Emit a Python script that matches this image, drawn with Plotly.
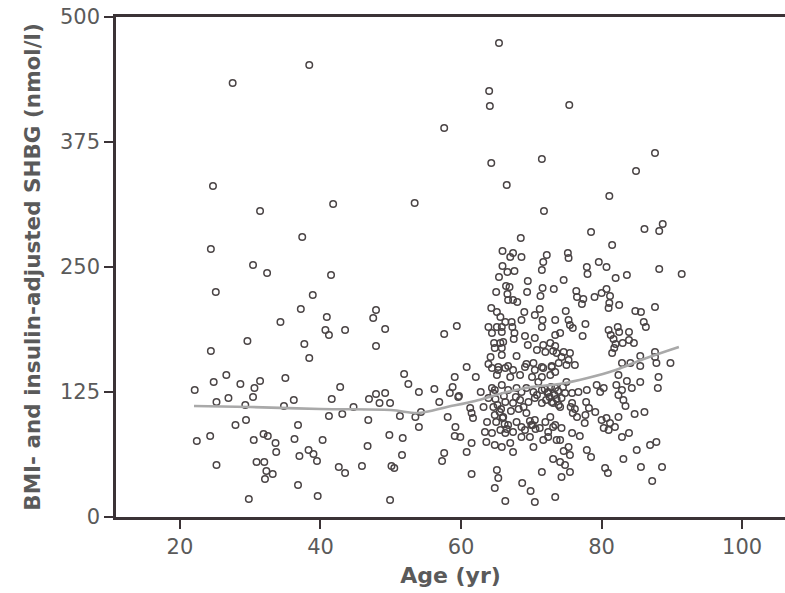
import plotly.graph_objects as go

# Scatter data: (age in years, BMI- and insulin-adjusted SHBG in nmol/l)
age_young = [27.5, 38.4, 24.7, 31.4, 41.8, 37.4, 24.4, 30.4, 32.4, 41.5, 25.1, 38.9, 37.2, 34.3, 29.6,
             37.7, 24.4, 38.4, 26.6, 24.8, 28.6, 31.4, 35.0, 22.1, 30.6, 26.9, 30.4, 25.2, 36.2, 29.3,
             34.8, 29.4, 27.9, 36.8, 22.4, 24.3, 30.5, 31.9, 32.5, 33.6, 36.3, 33.7, 37.0, 38.3, 25.2,
             30.9, 32.0, 32.3, 33.2, 32.1, 36.8, 29.8]
shbg_young = [434, 452, 331, 306, 313, 280, 268, 252, 244, 242, 225, 222, 208, 195, 176,
              173, 166, 159, 142, 135, 133, 136, 139, 127, 129, 119, 120, 115, 117, 112,
              111, 97, 92, 92, 76, 81, 77, 83, 81, 74, 78, 65, 61, 67, 52,
              55, 55, 46, 43, 38, 32, 18]

age_mid = [53.4, 40.9, 47.9, 47.5, 40.7, 41.2, 43.5, 49.2, 47.9, 57.6, 59.4, 51.9, 52.5, 59.1, 42.8,
           41.6, 46.9, 47.9, 49.2, 48.4, 49.9, 54.0, 56.2, 56.9, 58.8, 58.4, 44.7, 41.2, 43.1, 46.8,
           51.3, 53.5, 54.3, 58.1, 59.2, 59.1, 54.0, 49.8, 51.7, 46.7, 40.3, 39.0, 39.5, 42.6, 43.5,
           45.9, 50.1, 50.5, 51.6, 57.6, 57.3, 39.6, 49.9, 59.7]
shbg_mid = [314, 200, 207, 199, 187, 182, 187, 188, 171, 183, 191, 143, 133, 140, 130,
            118, 118, 123, 124, 114, 114, 125, 128, 115, 130, 124, 110, 101, 103, 97,
            101, 100, 105, 100, 90, 81, 90, 82, 79, 71, 77, 63, 56, 50, 44,
            51, 51, 49, 62, 64, 56, 21, 17, 121]

age_high = [65.4, 64.0, 64.1, 75.4, 57.6, 64.3, 71.5, 87.6, 84.9, 66.5, 81.1, 71.8, 88.7, 68.5, 78.5,
            81.5, 86.1, 88.2, 88.2, 91.4, 83.6, 82.0]
shbg_high = [474, 426, 411, 412, 389, 354, 358, 364, 346, 332, 321, 306, 293, 279, 285,
             272, 288, 286, 248, 243, 242, 239]

age_old_a = [65.9, 67.4, 68.6, 67.0, 72.2, 71.7, 71.5, 65.9, 66.6, 67.6, 69.5, 66.4, 69.4, 71.6, 73.2,
             66.6, 71.3, 66.7, 67.4, 64.3, 65.1, 71.2, 73.4, 70.5, 65.6, 66.3, 67.2, 68.6, 71.6, 63.9,
             65.1, 65.8, 64.4, 65.8, 71.5, 67.6, 67.5, 69.1, 70.5, 73.4, 64.7, 65.6, 64.8, 65.8, 69.5,
             71.7, 72.7, 73.4, 70.8, 72.0, 73.1, 73.6, 65.8, 67.9, 60.8, 63.9, 65.3, 66.7, 69.3, 70.3,
             71.5, 72.9]
shbg_old_a = [266, 264, 260, 260, 262, 255, 247, 251, 245, 246, 236, 231, 225, 229, 228,
              223, 221, 217, 217, 209, 205, 208, 197, 202, 200, 195, 195, 197, 197, 190,
              190, 190, 184, 185, 190, 184, 178, 181, 179, 182, 174, 174, 169, 169, 172,
              172, 174, 171, 167, 165, 166, 164, 162, 161, 150, 153, 150, 151, 153, 154,
              150, 151]

age_old_b = [75.2, 75.3, 79.6, 77.9, 80.7, 78.0, 74.6, 76.4, 76.5, 77.4, 77.2, 79.0, 80.0, 80.7, 81.2,
             81.1, 81.0, 82.5, 84.8, 85.6, 87.6, 74.9, 75.3, 75.5, 75.9, 77.7, 86.0, 86.3, 74.1, 77.3,
             81.0, 82.3, 82.5, 83.9, 81.3, 81.7, 82.0, 81.8, 83.0, 83.9, 84.6, 81.5, 85.5, 87.6, 87.6,
             89.8, 74.6, 75.5, 74.3, 75.3, 75.0, 76.2, 73.9, 82.9, 84.1, 85.5, 87.8]
shbg_old_b = [264, 259, 255, 250, 250, 243, 237, 226, 220, 218, 213, 220, 224, 228, 221,
              214, 209, 212, 206, 205, 210, 206, 197, 192, 189, 193, 195, 190, 184, 181,
              187, 190, 185, 185, 182, 178, 173, 169, 174, 177, 174, 164, 161, 165, 160,
              154, 165, 164, 160, 157, 152, 152, 154, 154, 154, 151, 154]

age_old_c = [62.1, 64.4, 65.3, 66.3, 67.4, 69.1, 70.5, 71.7, 72.9, 73.4, 65.1, 67.0, 68.4, 70.1, 71.5,
             72.7, 59.6, 64.4, 64.8, 65.8, 66.7, 67.9, 68.6, 69.3, 70.3, 71.5, 72.4, 73.4, 61.3, 61.5,
             61.7, 63.9, 64.6, 66.3, 67.4, 68.4, 69.6, 70.5, 71.5, 72.9, 73.9, 64.8, 66.0, 66.7, 67.9,
             68.6, 70.0, 70.5, 72.0, 72.7, 73.4, 65.6, 64.4, 66.3, 67.4, 69.1, 71.2, 72.4, 73.1, 59.9,
             63.4, 63.6, 64.8, 65.8, 67.0, 68.6, 69.8, 70.3, 71.7, 72.4, 73.6, 61.5, 60.8, 67.4, 73.1,
             61.5, 65.1, 65.3, 64.8, 68.7, 69.9, 71.5, 66.3, 70.5, 73.4]
shbg_old_c = [140, 149, 147, 149, 147, 150, 147, 149, 150, 145, 142, 140, 142, 140, 140,
              142, 120, 129, 127, 132, 127, 129, 125, 129, 125, 127, 125, 129, 109, 104,
              99, 119, 110, 115, 114, 117, 115, 119, 114, 115, 112, 102, 100, 92, 95,
              90, 92, 97, 95, 100, 92, 87, 84, 84, 85, 87, 89, 85, 90, 80,
              85, 75, 72, 70, 74, 80, 80, 70, 77, 80, 77, 74, 65, 65, 58,
              43, 47, 39, 29, 34, 26, 45, 16, 15, 20]

age_old_d = [88.1, 88.0, 85.5, 82.4, 83.6, 84.3, 82.1, 82.9, 82.4, 83.1, 83.4, 79.3, 80.3, 79.8, 77.9,
             76.7, 75.8, 77.8, 78.2, 79.1, 77.7, 77.6, 80.0, 80.7, 81.2, 81.9, 81.0, 80.3, 82.4, 84.7,
             86.1, 82.9, 83.9, 76.9, 75.8, 74.3, 74.1, 75.3, 74.6, 75.5, 74.8, 74.1, 74.3, 75.5, 77.9,
             78.5, 80.5, 80.9, 83.1, 85.0, 86.9, 87.8, 85.6, 88.6, 87.2]
shbg_old_d = [140, 129, 135, 142, 136, 129, 132, 127, 122, 117, 111, 132, 129, 125, 127,
              125, 124, 115, 109, 105, 102, 94, 97, 99, 94, 90, 87, 89, 100, 103,
              105, 80, 84, 81, 84, 89, 77, 70, 66, 62, 52, 55, 40, 45, 67,
              60, 49, 44, 58, 67, 72, 75, 50, 50, 36]

# Densely overlapping core of the 65-76 yr group
age_core = [64.9, 65.2, 65.5, 65.9, 66.2, 64.6, 65.0, 65.7, 66.1, 66.5, 71.9, 72.3, 72.8, 73.3, 73.8,
            74.3, 74.8, 72.1, 72.6, 73.1, 73.6, 74.1, 75.6, 75.9, 76.2, 76.5, 75.8, 70.2, 70.6, 69.8,
            68.9, 69.3, 67.8, 68.2, 67.1, 71.0, 70.8, 74.5, 75.0, 63.7, 63.2, 62.8, 66.9, 68.0, 69.0,
            65.4, 65.0, 64.2, 66.0, 67.3]
shbg_core = [118, 112, 105, 99, 93, 124, 95, 108, 121, 88, 128, 124, 130, 122, 126,
             119, 124, 117, 120, 114, 118, 110, 110, 104, 108, 100, 114, 92, 88, 96,
             110, 104, 120, 108, 106, 135, 122, 130, 135, 95, 110, 125, 230, 215, 205,
             240, 225, 160, 175, 190]

# Smoothed (lowess) trend line
trend_age = [22, 30, 40, 50, 54, 58, 62, 66, 70, 74, 78, 82, 86, 91]
trend_shbg = [111, 110, 108, 107, 104, 110, 116, 124, 130, 133, 139, 147, 158, 170]

x_ticks = [20, 40, 60, 80, 100]
y_ticks = [0, 125, 250, 375, 500]

ages = age_young + age_mid + age_high + age_old_a + age_old_b + age_old_c + age_old_d + age_core
shbg = shbg_young + shbg_mid + shbg_high + shbg_old_a + shbg_old_b + shbg_old_c + shbg_old_d + shbg_core

axis_col = "#3b3336"
text_col = "#5a5a5a"

fig = go.Figure()
fig.add_trace(go.Scatter(
    x=ages, y=shbg, mode="markers",
    marker=dict(symbol="circle-open", size=6.5, color="#4a4445", line=dict(width=1.5)),
    hoverinfo="skip", showlegend=False,
))
fig.add_trace(go.Scatter(
    x=trend_age, y=trend_shbg, mode="lines",
    line=dict(color="#a9a9a9", width=2.6, shape="spline"),
    hoverinfo="skip", showlegend=False,
))

fig.update_layout(
    width=785, height=593,
    margin=dict(l=116, r=0, t=17, b=76),
    paper_bgcolor="white", plot_bgcolor="white",
    font=dict(family="DejaVu Sans", color=text_col),
)
fig.update_xaxes(
    range=[10.9, 106.1], tickvals=x_ticks, ticktext=[str(v) for v in x_ticks],
    showgrid=False, zeroline=False,
    showline=True, linecolor=axis_col, linewidth=2.5, mirror=True,
    ticks="outside", ticklen=9, tickwidth=2, tickcolor=axis_col,
    tickfont=dict(size=21, color=text_col, family="DejaVu Sans"),
    title=dict(text="<b>Age (yr)</b>", font=dict(size=22, color=text_col, family="DejaVu Sans"), standoff=10),
)
fig.update_yaxes(
    range=[0, 500], tickvals=y_ticks, ticktext=[str(v) for v in y_ticks],
    showgrid=False, zeroline=False,
    showline=True, linecolor=axis_col, linewidth=2.5, mirror=False,
    ticks="outside", ticklen=9, tickwidth=2, tickcolor=axis_col,
    tickfont=dict(size=21, color=text_col, family="DejaVu Sans"),
    title=dict(text="<b>BMI- and insulin-adjusted SHBG (nmol/l)</b>",
               font=dict(size=21.5, color=text_col, family="DejaVu Sans"), standoff=14),
)

fig.write_html("out.html")
